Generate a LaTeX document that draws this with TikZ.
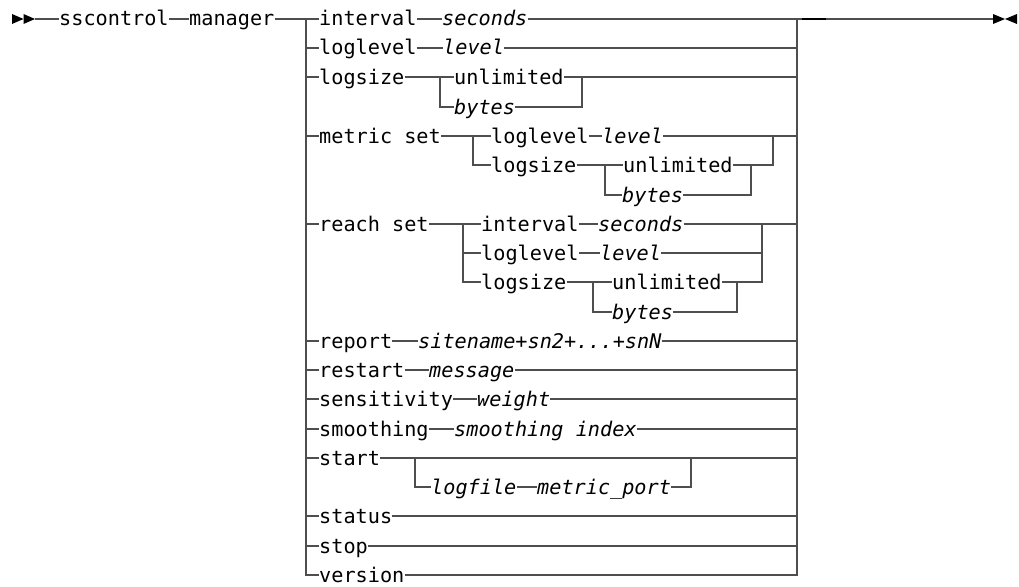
\documentclass[tikz,border=0pt]{standalone}
\usepackage{fontspec}
\newfontfamily\kwfamily{DejaVu Sans Mono}
\definecolor{linegray}{RGB}{78,78,78}
\begin{document}
\begin{tikzpicture}[x=1pt,y=-1pt,
  ln/.style={draw=linegray, line width=2pt},
  kw/.style={inner sep=0pt, text height=14pt, text depth=0pt, anchor=west,
             font={\kwfamily\fontsize{20.2}{24}\selectfont}},
  var/.style={kw, font={\kwfamily\itshape\fontsize{20.2}{24}\selectfont}},
  tip/.style={fill=black}]
\useasboundingbox (0,0) rectangle (1019,586);

% ---- main line
\coordinate (in) at (35,19);
\node[kw] (sscontrol) at (59,19) {sscontrol};
\node[kw] (manager) at (189,19) {manager};
\coordinate (L) at (306,19);
\coordinate (Lb) at (306,575);
\coordinate (R) at (797,19);
\coordinate (Rb) at (797,575);
\coordinate (out) at (993,19);

\fill[tip] (12,14) -- (23.5,19) -- (12,24) -- cycle;
\fill[tip] (23.5,14) -- (35,19) -- (23.5,24) -- cycle;
\fill[tip] (993,14) -- (1005,19) -- (993,24) -- cycle;
\fill[tip] (1017,14) -- (1005,19) -- (1017,24) -- cycle;

\draw[ln] (in) -- (sscontrol);
\draw[ln] (sscontrol) -- (manager);
\draw[ln] (R) -- (out);
\draw[line width=2.2pt, black] (802,19) -- (826,19);

% ---- row 0
\node[kw] (interval) at (319,19) {interval};
\node[var] (seconds) at (442,19) {seconds};
\draw[ln] (manager) -- (interval);
\draw[ln] (interval) -- (seconds);
\draw[ln] (seconds) -- (R);

% ---- row 1
\node[kw] (loglevelA) at (319,48) {loglevel};
\node[var] (levelA) at (443,48) {level};
\draw[ln] (L |- loglevelA) -- (loglevelA);
\draw[ln] (loglevelA) -- (levelA);
\draw[ln] (levelA) -- (R |- levelA);

% ---- rows 2-3
\node[kw] (logsizeA) at (319,77) {logsize};
\node[kw] (unlimA) at (454,77) {unlimited};
\node[var] (bytesA) at (454,107) {bytes};
\coordinate (a1) at (440,77);
\coordinate (a2) at (440,107);
\coordinate (a3) at (582,77);
\coordinate (a4) at (582,107);
\draw[ln] (L |- logsizeA) -- (logsizeA);
\draw[ln] (logsizeA) -- (unlimA);
\draw[ln] (a1) -- (a2) -- (bytesA);
\draw[ln] (unlimA) -- (R |- unlimA);
\draw[ln] (bytesA) -- (a4) -- (a3);

% ---- rows 4-6 metric set
\node[kw] (metricset) at (319,136) {metric set};
\node[kw] (mlog) at (491,136) {loglevel};
\node[var] (mlevel) at (602,136) {level};
\node[kw] (mlogsize) at (491,165) {logsize};
\node[kw] (munlim) at (623,165) {unlimited};
\node[var] (mbytes) at (622,195) {bytes};
\coordinate (m1) at (473,136);
\coordinate (m2) at (473,165);
\coordinate (m3) at (773,136);
\coordinate (m4) at (773,165);
\coordinate (m5) at (605,165);
\coordinate (m6) at (605,195);
\coordinate (m7) at (751,165);
\coordinate (m8) at (751,195);
\draw[ln] (L |- metricset) -- (metricset);
\draw[ln] (metricset) -- (mlog);
\draw[ln] (mlog) -- (mlevel);
\draw[ln] (mlevel) -- (R |- mlevel);
\draw[ln] (m1) -- (m2) -- (mlogsize);
\draw[ln] (mlogsize) -- (munlim);
\draw[ln] (munlim) -- (m4) -- (m3);
\draw[ln] (m5) -- (m6) -- (mbytes);
\draw[ln] (mbytes) -- (m8) -- (m7);

% ---- rows 7-10 reach set
\node[kw] (reachset) at (319,224) {reach set};
\node[kw] (rint) at (481,224) {interval};
\node[var] (rsec) at (598,224) {seconds};
\node[kw] (rlog) at (481,253) {loglevel};
\node[var] (rlevel) at (600,253) {level};
\node[kw] (rlogsize) at (481,282) {logsize};
\node[kw] (runlim) at (612,282) {unlimited};
\node[var] (rbytes) at (612,312) {bytes};
\coordinate (r1) at (463,224);
\coordinate (r2) at (463,282);
\coordinate (r3) at (762,224);
\coordinate (r4) at (762,282);
\coordinate (r5) at (593,282);
\coordinate (r6) at (593,312);
\coordinate (r7) at (737,282);
\coordinate (r8) at (737,312);
\draw[ln] (L |- reachset) -- (reachset);
\draw[ln] (reachset) -- (rint);
\draw[ln] (rint) -- (rsec);
\draw[ln] (rsec) -- (R |- rsec);
\draw[ln] (r1) -- (r2) -- (rlogsize);
\draw[ln] (r1 |- rlog) -- (rlog);
\draw[ln] (rlog) -- (rlevel);
\draw[ln] (rlevel) -- (r3 |- rlevel);
\draw[ln] (rlogsize) -- (runlim);
\draw[ln] (runlim) -- (r4) -- (r3);
\draw[ln] (r5) -- (r6) -- (rbytes);
\draw[ln] (rbytes) -- (r8) -- (r7);

% ---- rows 11-14
\node[kw] (report) at (319,341) {report};
\node[var] (sitename) at (418,341) {sitename+sn2+...+snN};
\draw[ln] (L |- report) -- (report);
\draw[ln] (report) -- (sitename);
\draw[ln] (sitename) -- (R |- sitename);

\node[kw] (restart) at (319,370) {restart};
\node[var] (message) at (429,370) {message};
\draw[ln] (L |- restart) -- (restart);
\draw[ln] (restart) -- (message);
\draw[ln] (message) -- (R |- message);

\node[kw] (sensitivity) at (319,399) {sensitivity};
\node[var] (weight) at (477,399) {weight};
\draw[ln] (L |- sensitivity) -- (sensitivity);
\draw[ln] (sensitivity) -- (weight);
\draw[ln] (weight) -- (R |- weight);

\node[kw] (smoothing) at (319,429) {smoothing};
\node[var] (smindex) at (454,429) {smoothing index};
\draw[ln] (L |- smoothing) -- (smoothing);
\draw[ln] (smoothing) -- (smindex);
\draw[ln] (smindex) -- (R |- smindex);

% ---- rows 15-16 start
\node[kw] (start) at (319,458) {start};
\node[var] (logfile) at (431,487) {logfile};
\node[var] (mport) at (537,487) {metric\_port};
\coordinate (s1) at (415,458);
\coordinate (s2) at (415,487);
\coordinate (s3) at (691,458);
\coordinate (s4) at (691,487);
\draw[ln] (L |- start) -- (start);
\draw[ln] (start) -- (R |- start);
\draw[ln] (s1) -- (s2) -- (logfile);
\draw[ln] (logfile) -- (mport);
\draw[ln] (mport) -- (s4) -- (s3);

% ---- rows 17-19
\node[kw] (status) at (319,516) {status};
\draw[ln] (L |- status) -- (status);
\draw[ln] (status) -- (R |- status);

\node[kw] (stop) at (319,546) {stop};
\draw[ln] (L |- stop) -- (stop);
\draw[ln] (stop) -- (R |- stop);

\node[kw] (version) at (319,575) {version};
\draw[ln] (L) -- (Lb) -- (version);
\draw[ln] (version) -- (Rb) -- (R);
\end{tikzpicture}
\end{document}
